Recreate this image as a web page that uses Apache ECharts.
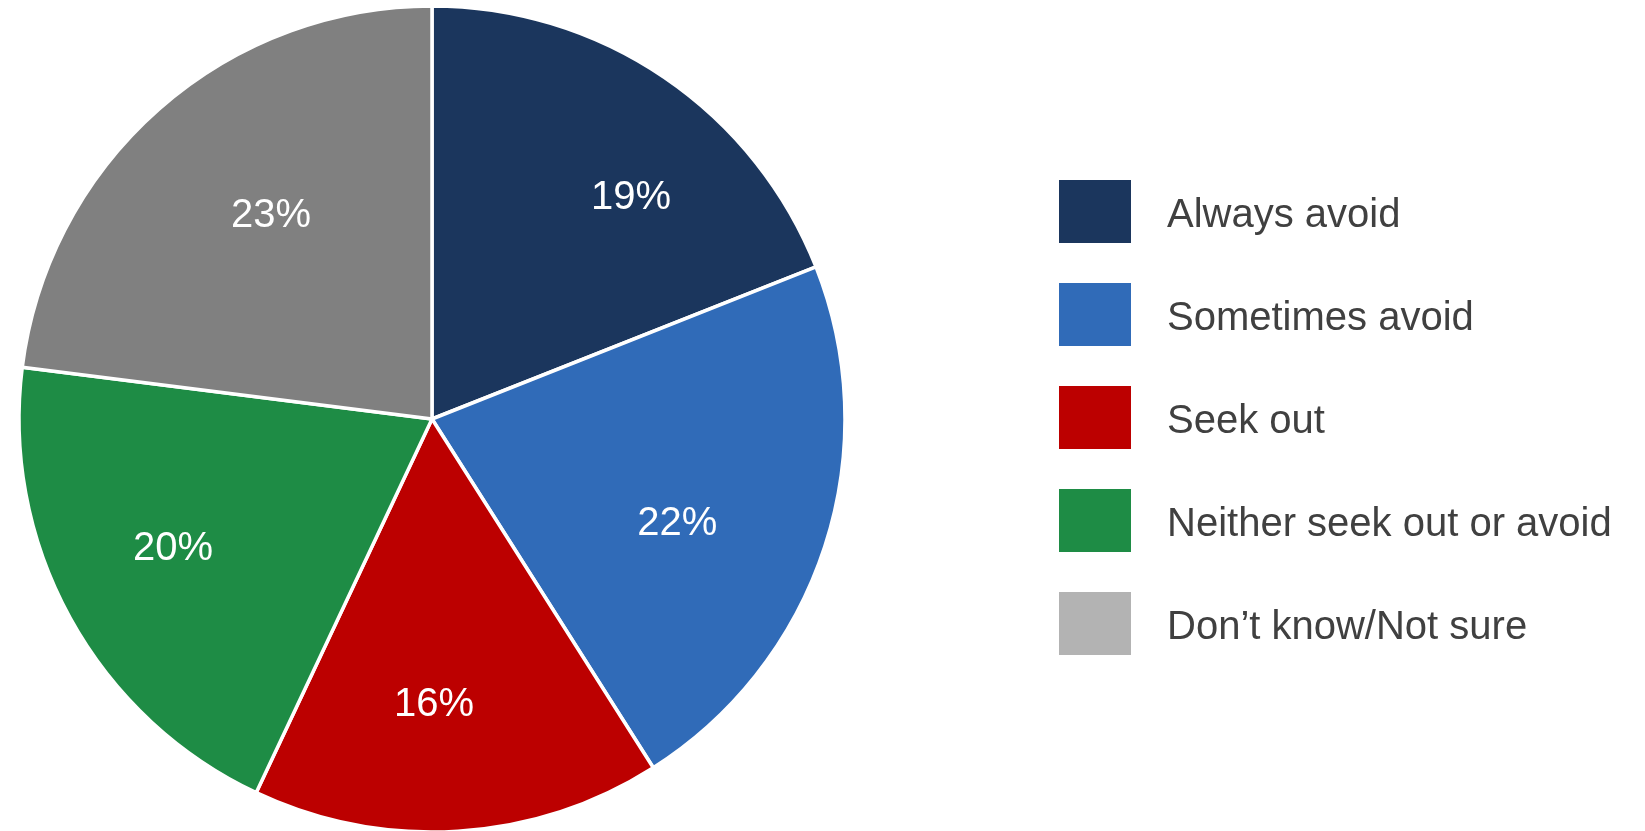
<!DOCTYPE html>
<html>
<head>
<meta charset="utf-8">
<style>
  html, body { margin: 0; padding: 0; background: #ffffff; }
  #chart { width: 1645px; height: 831px; }
</style>
<script src="https://cdn.jsdelivr.net/npm/echarts@6/dist/echarts.min.js"></script>
</head>
<body>
<div id="chart"></div>
<script>
// Survey responses, in percent
const categories = ['Always avoid', 'Sometimes avoid', 'Seek out', 'Neither seek out or avoid', 'Don\u2019t know/Not sure'];
const shares = [19, 22, 16, 20, 23];

// Styling
const sliceColors = ['#1b365d', '#306bb8', '#bc0000', '#1e8c45', '#808080'];
const legendColors = ['#1b365d', '#306bb8', '#bc0000', '#1e8c45', '#b3b3b3'];
// small nudges for the percentage labels, in pixels
const labelNudges = [[24, 1], [-17, -1], [4, 3], [-2, 11], [11, 22]];

const center = [432, 419];
const outerRadius = 413;

const chart = echarts.init(document.getElementById('chart'), null, { renderer: 'canvas' });

chart.setOption({
  animation: false,
  backgroundColor: '#ffffff',
  legend: {
    orient: 'vertical',
    left: 1059,
    top: 180,
    padding: 0,
    itemWidth: 72,
    itemHeight: 63,
    itemGap: 40,
    icon: 'rect',
    selectedMode: false,
    textStyle: {
      fontFamily: '"Liberation Sans", sans-serif',
      fontSize: 40,
      lineHeight: 48,
      color: '#404040',
      padding: [0, 0, 0, 31]
    },
    formatter: name => '{t|' + name + '}',
    data: categories.map((name, i) => ({
      name: name,
      itemStyle: { color: legendColors[i], borderWidth: 0 }
    }))
  },
  series: [
    {
      // the visible slices
      type: 'pie',
      center: center,
      radius: [0, outerRadius],
      startAngle: 90,
      clockwise: true,
      silent: true,
      label: { show: false },
      labelLine: { show: false },
      itemStyle: { borderColor: '#ffffff', borderWidth: 3.5 },
      data: categories.map((name, i) => ({
        name: name,
        value: shares[i],
        itemStyle: { color: sliceColors[i] }
      }))
    },
    {
      // transparent ring that only carries the percentage labels
      type: 'pie',
      center: center,
      radius: [147, outerRadius],
      startAngle: 86,
      clockwise: true,
      silent: true,
      legendHoverLink: false,
      itemStyle: { color: 'rgba(0,0,0,0)', borderWidth: 0 },
      label: {
        show: true,
        position: 'inside',
        formatter: '{c}%',
        color: '#ffffff',
        fontFamily: '"Liberation Sans", sans-serif',
        fontSize: 40
      },
      labelLine: { show: false },
      data: categories.map((name, i) => ({
        name: name + ' ',
        value: shares[i],
        label: { offset: labelNudges[i] }
      }))
    }
  ]
});

// legend text sits a few pixels below the swatch centre
chart.setOption({
  legend: {
    textStyle: {
      rich: {
        t: {
          fontFamily: '"Liberation Sans", sans-serif',
          fontSize: 40,
          color: '#404040',
          padding: [8, 0, 0, 0]
        }
      }
    }
  }
});
</script>
</body>
</html>
